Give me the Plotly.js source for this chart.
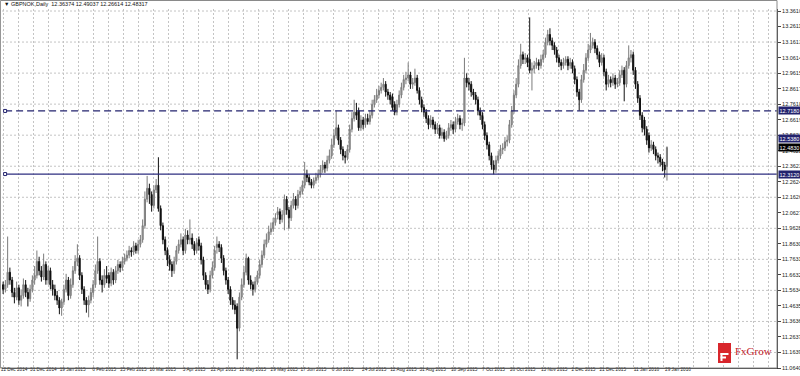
<!DOCTYPE html>
<html><head><meta charset="utf-8">
<script src="https://cdn.plot.ly/plotly-3.0.1.min.js"></script>
<style>html,body{margin:0;padding:0;background:#fff;overflow:hidden}#chart{width:800px;height:376px}</style>
</head><body><div id="chart"></div>
<script>
const chartTitle = '▼ GBPNOK,Daily  12.36374 12.49037 12.26614 12.48317';
const firstDay = '2014-12-12';

const open = [
11.60,11.57,11.60,11.68,11.63,11.55,11.52,11.58,11.50,11.53,
11.60,11.55,11.51,11.57,11.63,11.66,11.75,11.69,11.65,11.73,
11.63,11.69,11.60,11.57,11.53,11.50,11.45,11.49,11.57,11.63,
11.53,11.60,11.69,11.75,11.77,11.66,11.57,11.50,11.47,11.50,
11.55,11.60,11.69,11.75,11.63,11.60,11.66,11.66,11.61,11.68,
11.63,11.69,11.73,11.71,11.75,11.77,11.79,11.82,11.81,11.85,
11.82,11.86,11.89,11.98,12.15,12.22,12.18,12.11,12.21,12.24,
12.09,11.98,11.89,11.82,11.76,11.73,11.69,11.75,11.82,11.86,
11.89,11.82,11.92,11.89,11.90,11.86,11.82,11.89,11.85,11.76,
11.66,11.60,11.57,11.66,11.71,11.84,11.86,11.84,11.77,11.69,
11.63,11.57,11.50,11.47,11.46,11.32,11.52,11.60,11.68,11.77,
11.63,11.60,11.57,11.62,11.66,11.73,11.79,11.86,11.89,11.94,
11.96,12.00,12.05,12.07,12.02,12.05,12.15,12.08,12.03,12.11,
12.15,12.11,12.18,12.20,12.24,12.31,12.29,12.26,12.24,12.27,
12.29,12.31,12.34,12.37,12.35,12.40,12.43,12.50,12.56,12.61,
12.53,12.47,12.43,12.42,12.47,12.60,12.67,12.71,12.72,12.61,
12.66,12.63,12.67,12.65,12.69,12.76,12.79,12.82,12.85,12.87,
12.89,12.84,12.82,12.81,12.76,12.71,12.76,12.82,12.87,12.92,
12.93,12.95,12.89,12.90,12.93,12.85,12.79,12.74,12.71,12.67,
12.63,12.66,12.63,12.60,12.61,12.56,12.58,12.54,12.56,12.61,
12.63,12.60,12.65,12.67,12.63,12.64,12.93,12.90,12.89,12.84,
12.82,12.79,12.72,12.69,12.63,12.56,12.50,12.43,12.37,12.34,
12.40,12.43,12.47,12.48,12.52,12.53,12.63,12.72,12.82,12.89,
13.01,13.08,13.05,13.06,13.05,12.98,12.99,13.01,13.03,13.01,
13.05,13.08,13.16,13.21,13.17,13.14,13.11,13.06,13.03,13.01,
13.03,13.05,13.01,13.03,12.99,12.92,12.84,12.79,12.92,12.98,
13.06,13.11,13.14,13.16,13.12,13.08,13.03,13.06,12.97,12.89,
12.92,12.90,12.93,12.89,12.90,12.95,12.98,12.89,13.01,13.06,
13.08,12.98,12.89,12.80,12.69,12.66,12.60,12.56,12.48,12.50,
12.47,12.43,12.42,12.39,12.37,12.36];

const high = [
11.62,11.63,11.91,11.71,11.65,11.58,11.62,11.60,11.57,11.64,
11.63,11.58,11.60,11.66,11.72,11.82,11.78,11.72,11.80,11.75,
11.72,11.71,11.63,11.60,11.56,11.52,11.51,11.60,11.67,11.65,
11.64,11.72,11.79,11.86,11.79,11.68,11.59,11.52,11.53,11.58,
11.63,11.73,11.91,11.77,11.66,11.70,11.72,11.68,11.71,11.70,
11.72,11.76,11.75,11.78,11.80,11.82,11.85,11.84,11.88,11.87,
11.89,11.92,12.02,12.20,12.30,12.25,12.20,12.24,12.28,12.42,
12.11,12.00,11.91,11.84,11.79,11.75,11.78,11.85,11.89,11.93,
11.91,11.96,11.95,12.02,11.93,11.88,11.90,11.91,11.87,11.78,
11.68,11.63,11.69,11.75,11.85,11.91,11.88,11.86,11.79,11.71,
11.65,11.59,11.52,11.50,11.48,11.55,11.64,11.72,11.80,11.78,
11.66,11.62,11.65,11.69,11.76,11.82,11.89,11.93,11.98,12.00,
12.03,12.06,12.10,12.09,12.08,12.18,12.17,12.10,12.14,12.19,
12.17,12.21,12.23,12.27,12.39,12.34,12.31,12.28,12.29,12.32,
12.34,12.37,12.40,12.39,12.43,12.47,12.54,12.60,12.72,12.63,
12.55,12.49,12.46,12.50,12.63,12.71,12.79,12.77,12.74,12.69,
12.68,12.70,12.70,12.72,12.79,12.82,12.86,12.88,12.90,12.93,
12.91,12.86,12.84,12.83,12.78,12.79,12.85,12.90,12.95,12.97,
13.03,12.97,12.93,12.99,12.95,12.87,12.81,12.76,12.73,12.69,
12.69,12.68,12.65,12.64,12.63,12.61,12.60,12.59,12.64,12.66,
12.65,12.68,12.70,12.69,12.67,13.06,12.96,12.93,12.91,12.86,
12.84,12.81,12.74,12.71,12.65,12.58,12.52,12.45,12.40,12.43,
12.46,12.50,12.51,12.55,12.56,12.66,12.75,12.85,12.93,13.05,
13.15,13.10,13.09,13.08,13.32,13.03,13.04,13.06,13.05,13.08,
13.11,13.19,13.24,13.25,13.19,13.16,13.13,13.08,13.05,13.06,
13.07,13.07,13.06,13.05,13.01,12.94,12.86,12.95,13.02,13.09,
13.15,13.22,13.19,13.18,13.14,13.10,13.09,13.08,12.99,12.95,
12.94,12.96,12.95,12.93,12.98,13.01,13.00,13.04,13.14,13.11,
13.10,13.00,12.91,12.82,12.71,12.68,12.62,12.58,12.53,12.52,
12.49,12.45,12.44,12.41,12.39,12.49];

const low = [
11.54,11.55,11.58,11.60,11.52,11.48,11.50,11.47,11.46,11.51,
11.52,11.46,11.49,11.55,11.60,11.64,11.66,11.62,11.63,11.60,
11.60,11.57,11.53,11.50,11.47,11.41,11.40,11.47,11.55,11.50,
11.51,11.58,11.67,11.72,11.63,11.54,11.47,11.42,11.39,11.48,
11.52,11.58,11.67,11.60,11.55,11.58,11.61,11.58,11.59,11.60,
11.61,11.67,11.68,11.69,11.73,11.75,11.77,11.78,11.79,11.80,
11.80,11.84,11.87,11.96,12.13,12.12,12.07,12.09,12.19,12.07,
11.95,11.86,11.79,11.72,11.69,11.65,11.67,11.73,11.80,11.84,
11.79,11.80,11.86,11.86,11.83,11.79,11.80,11.82,11.73,11.63,
11.57,11.54,11.55,11.64,11.69,11.80,11.81,11.74,11.66,11.60,
11.54,11.47,11.44,11.41,11.12,11.30,11.50,11.58,11.66,11.60,
11.57,11.53,11.55,11.60,11.64,11.71,11.77,11.84,11.87,11.92,
11.94,11.98,12.02,11.99,12.00,11.95,12.05,11.96,12.01,12.09,
12.08,12.09,12.16,12.18,12.22,12.26,12.24,12.22,12.22,12.25,
12.27,12.29,12.32,12.32,12.33,12.38,12.41,12.48,12.54,12.50,
12.44,12.40,12.38,12.40,12.45,12.58,12.65,12.66,12.59,12.59,
12.60,12.61,12.63,12.63,12.67,12.74,12.77,12.80,12.83,12.85,
12.81,12.79,12.76,12.72,12.69,12.69,12.74,12.80,12.85,12.89,
12.91,12.86,12.86,12.88,12.83,12.76,12.71,12.68,12.64,12.60,
12.61,12.60,12.57,12.57,12.54,12.54,12.52,12.53,12.54,12.59,
12.57,12.58,12.63,12.60,12.59,12.62,12.87,12.85,12.81,12.79,
12.76,12.69,12.66,12.60,12.53,12.47,12.40,12.34,12.31,12.32,
12.38,12.41,12.44,12.46,12.49,12.51,12.61,12.70,12.80,12.87,
12.99,13.02,13.02,13.00,12.96,12.85,12.96,12.99,12.98,12.99,
13.03,13.06,13.14,13.14,13.11,13.08,13.03,13.00,12.98,12.99,
13.01,12.98,12.99,12.96,12.89,12.81,12.72,12.77,12.90,12.96,
13.04,13.09,13.12,13.09,13.05,13.00,13.01,12.94,12.85,12.87,
12.87,12.88,12.86,12.87,12.88,12.93,12.78,12.87,12.99,13.03,
12.95,12.86,12.77,12.66,12.58,12.56,12.50,12.45,12.46,12.44,
12.40,12.38,12.36,12.33,12.29,12.27];

const close = [
11.57,11.60,11.68,11.63,11.55,11.52,11.58,11.50,11.53,11.60,
11.55,11.51,11.57,11.63,11.66,11.75,11.69,11.65,11.73,11.63,
11.69,11.60,11.57,11.53,11.50,11.45,11.49,11.57,11.63,11.53,
11.60,11.69,11.75,11.77,11.66,11.57,11.50,11.47,11.50,11.55,
11.60,11.69,11.75,11.63,11.60,11.66,11.64,11.61,11.68,11.63,
11.69,11.73,11.71,11.75,11.77,11.79,11.82,11.81,11.85,11.82,
11.86,11.89,11.98,12.15,12.22,12.18,12.11,12.21,12.24,12.09,
11.98,11.89,11.82,11.76,11.73,11.69,11.75,11.82,11.86,11.89,
11.82,11.92,11.89,11.90,11.86,11.82,11.87,11.85,11.76,11.66,
11.60,11.57,11.66,11.71,11.82,11.86,11.84,11.77,11.69,11.63,
11.57,11.50,11.47,11.44,11.32,11.52,11.60,11.68,11.77,11.63,
11.60,11.57,11.62,11.66,11.73,11.79,11.86,11.89,11.94,11.96,
12.00,12.03,12.07,12.02,12.05,12.15,12.08,12.03,12.11,12.15,
12.11,12.18,12.20,12.24,12.31,12.29,12.26,12.24,12.27,12.29,
12.31,12.34,12.37,12.35,12.40,12.43,12.50,12.56,12.61,12.53,
12.47,12.43,12.42,12.47,12.60,12.67,12.71,12.69,12.61,12.66,
12.63,12.67,12.65,12.69,12.76,12.79,12.82,12.85,12.87,12.89,
12.84,12.82,12.79,12.74,12.71,12.76,12.82,12.87,12.92,12.93,
12.95,12.89,12.90,12.93,12.85,12.79,12.74,12.71,12.67,12.63,
12.66,12.63,12.60,12.61,12.56,12.58,12.54,12.56,12.61,12.63,
12.60,12.65,12.67,12.63,12.64,12.93,12.90,12.89,12.84,12.82,
12.79,12.72,12.69,12.63,12.56,12.50,12.43,12.37,12.34,12.40,
12.43,12.47,12.48,12.52,12.53,12.63,12.72,12.82,12.89,13.01,
13.08,13.05,13.06,13.03,12.98,12.99,13.01,13.03,13.01,13.05,
13.08,13.16,13.21,13.17,13.14,13.11,13.06,13.03,13.01,13.03,
13.05,13.01,13.03,12.99,12.92,12.84,12.79,12.92,12.98,13.06,
13.11,13.14,13.16,13.12,13.08,13.03,13.06,12.97,12.89,12.92,
12.90,12.93,12.89,12.90,12.95,12.98,12.89,13.01,13.06,13.08,
12.98,12.89,12.80,12.69,12.61,12.60,12.53,12.48,12.50,12.47,
12.43,12.42,12.39,12.37,12.34,12.483];

const labelDates = ['2014-12-12','2014-12-31','2015-01-19','2015-02-06','2015-02-25','2015-03-16',
  '2015-04-03','2015-04-22','2015-05-11','2015-05-29','2015-06-17','2015-07-06','2015-07-24',
  '2015-08-12','2015-08-31','2015-09-18','2015-10-07','2015-10-26','2015-11-13','2015-12-02',
  '2015-12-21','2016-01-11','2016-01-29'];

const yTickVals = [11.0640,11.1639,11.2637,11.3636,11.4635,11.5634,11.6632,11.7631,11.8630,11.9628,
  12.0627,12.1626,12.2624,12.3623,12.4622,12.5621,12.6619,12.7618,12.8617,12.9615,
  13.0614,13.1613,13.2611,13.3610];

const levelDashed = 12.718;
const levelSolid = 12.312;
const levelMarked = 12.538;

// bar dates: one per weekday starting at firstDay
const dates = [];
{
  const d = new Date(firstDay + 'T00:00:00Z');
  while (dates.length < close.length) {
    const wd = d.getUTCDay();
    if (wd !== 0 && wd !== 6) dates.push(d.toISOString().slice(0, 10));
    d.setUTCDate(d.getUTCDate() + 1);
  }
}
const xs = dates.map((_, i) => i);
const MONTHS = ['Jan','Feb','Mar','Apr','May','Jun','Jul','Aug','Sep','Oct','Nov','Dec'];
const fmtDate = s => { const [y, m, dd] = s.split('-'); return (+dd) + ' ' + MONTHS[+m - 1] + ' ' + y; };
const xTickVals = labelDates.map(s => dates.indexOf(s));
const xTickText = labelDates.map(fmtDate);

const FONT = 'Liberation Sans, Arial, sans-serif';
const NAVY = '#23236e';

const trace = {
  type: 'candlestick',
  x: xs, open: open, high: high, low: low, close: close,
  text: dates, hoverinfo: 'x+text',
  whiskerwidth: 0,
  increasing: { line: { color: '#7c7c7c', width: 1 }, fillcolor: '#a6a6a6' },
  decreasing: { line: { color: '#111111', width: 1 }, fillcolor: '#000000' }
};

const shapes = [];
yTickVals.forEach((v, k) => {
  if (k % 2 === 1) shapes.push({ type: 'line', xref: 'paper', x0: 0, x1: 1, yref: 'y', y0: v, y1: v,
    layer: 'below', line: { color: '#c4c4c4', width: 1, dash: '2px,2px' } });
});
shapes.push({ type: 'line', xref: 'paper', x0: 0.004, x1: 1, yref: 'y', y0: levelDashed, y1: levelDashed,
  line: { color: NAVY, width: 1.2, dash: '7px,4px' } });
shapes.push({ type: 'line', xref: 'paper', x0: 0.004, x1: 1, yref: 'y', y0: levelSolid, y1: levelSolid,
  line: { color: '#2e2e80', width: 1.2 } });
[levelDashed, levelSolid].forEach(v => shapes.push({ type: 'rect', xref: 'paper', xsizemode: 'pixel', xanchor: 0.004,
  x0: -1.5, x1: 1.5, yref: 'y', ysizemode: 'pixel', yanchor: v, y0: -1.5, y1: 1.5,
  line: { color: NAVY, width: 1 }, fillcolor: '#ffffff' }));
// frame
shapes.push({ type: 'rect', xref: 'paper', yref: 'paper', x0: -1.6 / 775, x1: 1, y0: 0, y1: 1 + 8.5 / 359,
  line: { color: '#8a8a8a', width: 1 }, fillcolor: 'rgba(0,0,0,0)' });
// FxGrow logo mark
const px = v => (v - 2) / 775, py = v => (368 - v) / 359;
shapes.push({ type: 'rect', xref: 'paper', yref: 'paper', x0: px(718), x1: px(731), y0: py(363), y1: py(343),
  line: { width: 0 }, fillcolor: '#d8262c' });
shapes.push({ type: 'rect', xref: 'paper', yref: 'paper', x0: px(720.5), x1: px(728.5), y0: py(355), y1: py(353),
  line: { width: 0 }, fillcolor: '#ffffff' });
shapes.push({ type: 'rect', xref: 'paper', yref: 'paper', x0: px(720.5), x1: px(726), y0: py(358.5), y1: py(356.5),
  line: { width: 0 }, fillcolor: '#ffffff' });
shapes.push({ type: 'rect', xref: 'paper', yref: 'paper', x0: px(720.5), x1: px(722.5), y0: py(361), y1: py(353),
  line: { width: 0 }, fillcolor: '#ffffff' });

const priceLabel = (v, bg, txt) => ({ xref: 'paper', x: 1, xanchor: 'left', xshift: 0.5, yref: 'y', y: v,
  yanchor: 'middle', text: txt, showarrow: false, bgcolor: bg, borderpad: 0.5,
  font: { family: FONT, size: 5.5, color: '#ffffff' } });

const annotations = [
  priceLabel(levelDashed, NAVY, levelDashed.toFixed(4)),
  priceLabel(levelMarked, NAVY, levelMarked.toFixed(4)),
  priceLabel(levelSolid, NAVY, levelSolid.toFixed(4)),
  priceLabel(close[close.length - 1], '#000000', close[close.length - 1].toFixed(4)),
  { xref: 'paper', yref: 'paper', x: px(733), xanchor: 'left', y: py(351), yanchor: 'middle', text: 'FxGrow',
    showarrow: false, font: { family: 'Liberation Serif, serif', size: 11, color: '#c4232b' } }
];

const layout = {
  width: 800, height: 376,
  margin: { l: 2, r: 23, t: 9, b: 8, pad: 0 },
  paper_bgcolor: '#ffffff', plot_bgcolor: '#ffffff',
  showlegend: false,
  font: { family: FONT, size: 5.5, color: '#222' },
  title: { text: chartTitle, x: 4 / 800, xanchor: 'left', xref: 'container', y: 1 - 4.5 / 376, yanchor: 'middle',
    font: { family: FONT, size: 5.5, color: '#111' } },
  xaxis: {
    type: 'linear', range: [-0.5, 343.9], rangeslider: { visible: false },
    tickmode: 'array', tickvals: xTickVals, ticktext: xTickText, tickangle: 0,
    ticks: '', ticklen: 0,
    ticklabelshift: 11, ticklabelstandoff: -4,
    showgrid: false, zeroline: false,
    minor: { tickmode: 'linear', tick0: 0, dtick: 20 / 3, showgrid: true, gridcolor: '#c4c4c4', griddash: '2px,2px', gridwidth: 1, ticks: '' },
    showline: true, linecolor: '#333', linewidth: 1,
    tickfont: { family: FONT, size: 4.7, color: '#222' }, fixedrange: true
  },
  yaxis: {
    side: 'right', range: [11.064, 13.374],
    tickmode: 'array', tickvals: yTickVals, ticktext: yTickVals.map(v => v.toFixed(4)),
    ticks: 'outside', ticklen: 3, tickcolor: '#444', tickwidth: 1,
    showgrid: false, zeroline: false, showline: true, linecolor: '#333', linewidth: 1,
    tickfont: { family: FONT, size: 5.5, color: '#222' }, fixedrange: true
  },
  shapes: shapes,
  annotations: annotations
};

Plotly.newPlot('chart', [trace], layout, { displayModeBar: false, staticPlot: true });
</script>
</body></html>
